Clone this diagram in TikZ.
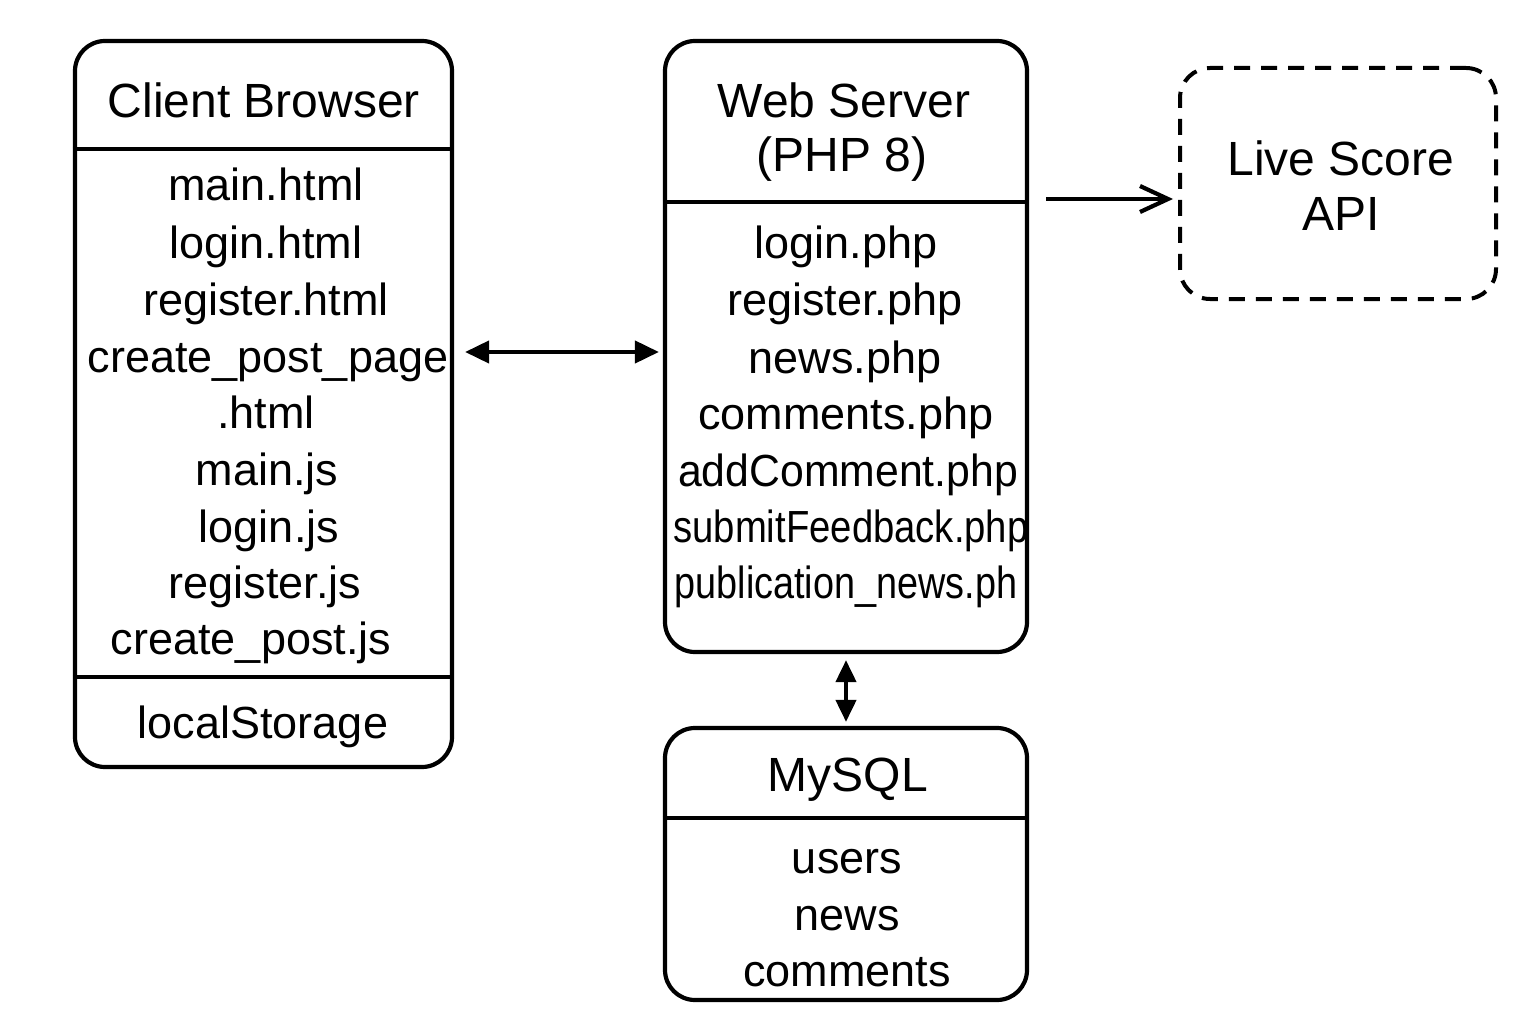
\documentclass[tikz,border=0pt]{standalone}
\usepackage{fontspec}
\setmainfont{Liberation Sans}
\usetikzlibrary{arrows.meta}
\begin{document}
\begin{tikzpicture}[x=1pt,y=-1pt,
  box/.style={draw, line width=4.2pt, rounded corners=30pt, inner sep=0pt},
  dbox/.style={draw, line width=4pt, rounded corners=30pt, dash pattern=on 16pt off 11pt, inner sep=0pt},
  sepline/.style={line width=4.2pt},
  txt/.style={font=\fontsize{45}{52}\selectfont, anchor=base, inner sep=0pt},
  head/.style={font=\fontsize{48}{56}\selectfont, anchor=base, inner sep=0pt},
  con/.style={line width=4.2pt}]
\useasboundingbox (0,0) rectangle (1536,1024);
\fill[white] (0,0) rectangle (1536,1024);
% boxes
\node[box, minimum width=377pt, minimum height=726pt] (client) at (263.5,404) {};
\node[box, minimum width=362pt, minimum height=611pt] (server) at (846,346.5) {};
\node[box, minimum width=362pt, minimum height=272pt] (mysql) at (846,864) {};
\node[dbox, minimum width=316pt, minimum height=231pt] (live) at (1338,183.5) {};
% separators
\coordinate (c1) at (0,149); \coordinate (c2) at (0,677);
\coordinate (s1) at (0,202); \coordinate (m1) at (0,818);
\draw[sepline] (client.west |- c1) -- (client.east |- c1);
\draw[sepline] (client.west |- c2) -- (client.east |- c2);
\draw[sepline] (server.west |- s1) -- (server.east |- s1);
\draw[sepline] (mysql.west |- m1) -- (mysql.east |- m1);
% client texts
\node[head] (cb) at (264,118) {Client Browser};
\node[txt] (t1) at (266,201) {main.html};
\node[txt] (t2) at (266,259) {login.html};
\node[txt] (t3) at (266,316) {register.html};
\node[txt] (t4) at (268,372) {create\_post\_page};
\node[txt] (t5) at (266,428) {.html};
\node[txt] (t6) at (267,485) {main.js};
\node[txt] (t7) at (269,542) {login.js};
\node[txt] (t8) at (265,598) {register.js};
\node[txt] (t9) at (251,654) {create\_post.js};
\node[txt] (t10) at (263,738) {localStorage};
% server texts
\node[head] (ws) at (844,118) {Web Server};
\node[head] (php) at (842,172) {(PHP 8)};
\node[txt] (s1t) at (846,259) {login.php};
\node[txt] (s2t) at (845,316) {register.php};
\node[txt] (s3t) at (845,373) {news.php};
\node[txt] (s4t) at (846,429) {comments.php};
\node[txt] (s5t) at (848,486) {\scalebox{0.95}[1]{addComment.php}};
\node[txt] (s6t) at (851,542) {\scalebox{0.85}[1]{submitFeedback.php}};
\node[txt] (s7t) at (846,598) {\scalebox{0.84}[1]{publication\_news.ph}};
% mysql texts
\node[head] (my) at (848,791) {MySQL};
\node[txt] (m1t) at (847,873) {users};
\node[txt] (m2t) at (847,930) {news};
\node[txt] (m3t) at (847,986) {comments};
% live texts
\node[head] (ls) at (1341,176) {Live Score};
\node[head] (api) at (1341,231) {API};
% connectors
\coordinate (ay) at (0,352);
\coordinate (ly) at (0,199);
\draw[con, {Triangle[length=24pt,width=22pt]}-{Triangle[length=24pt,width=22pt]}]
  ([xshift=11pt]client.east |- ay) -- ([xshift=-4pt]server.west |- ay);
\draw[con, {Triangle[length=22pt,width=20pt]}-{Triangle[length=22pt,width=20pt]}]
  ([yshift=-6pt]server.south) -- ([yshift=4pt]mysql.north);
\draw[con, -{Straight Barb[length=28pt,width=26pt]}]
  ([xshift=17pt]server.east |- ly) -- ([xshift=-5pt]live.west |- ly);
\end{tikzpicture}
\end{document}
